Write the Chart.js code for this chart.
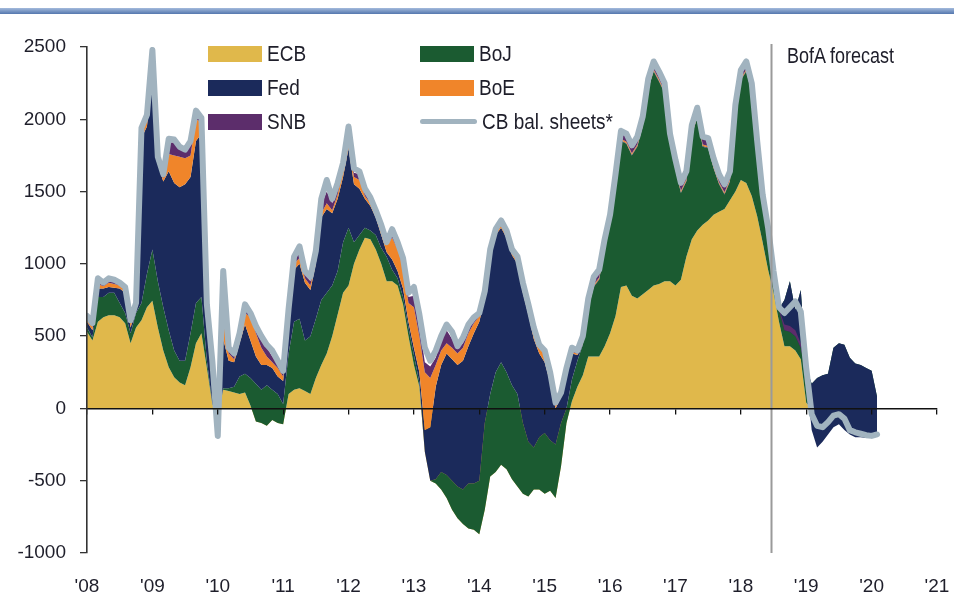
<!DOCTYPE html>
<html><head><meta charset="utf-8">
<script src="https://cdn.jsdelivr.net/npm/chart.js@4.4.1/dist/chart.umd.min.js"></script>
<style>
html,body{margin:0;padding:0;background:#fff;}
#wrap{position:relative;width:954px;height:597px;overflow:hidden;background:#fff;}
#topbar{position:absolute;left:0;top:8px;width:954px;height:6px;background:linear-gradient(#a3badc,#5477ae);}
canvas{position:absolute;left:0;top:0;}
.lg{position:absolute;display:flex;align-items:center;white-space:nowrap;color:#1e1e2a;height:17px;font-family:"Liberation Sans",Arial,sans-serif;font-size:19px;}
.lg .t,#fc .t{display:inline-block;transform:scaleY(1.2);transform-origin:50% 50%;line-height:17px;}
.sw{display:inline-block;width:54px;height:16px;margin-right:5px;flex:none;}
.ln{display:inline-block;width:57px;height:5px;border-radius:3px;margin-right:5px;flex:none;}
#fc{position:absolute;left:787px;top:46px;height:17px;color:#1e1e2a;white-space:nowrap;font-family:"Liberation Sans",Arial,sans-serif;font-size:18px;}
</style></head>
<body><div id="wrap"><canvas id="c" width="954" height="597"></canvas><div id="topbar"></div><div id="legend"></div><div id="fc"><span class="t">BofA forecast</span></div></div>
<script>
// ---- data (monthly, Jan 2008 .. Feb 2020), 12m change, $bn ----
const START_YEAR = 2008;
const FORECAST_START = 2018.46;
const xTickLabels = ["'08","'09","'10","'11","'12","'13","'14","'15","'16","'17","'18","'19","'20","'21"];
const yTicks = [-1000, -500, 0, 500, 1000, 1500, 2000, 2500];

const ECB = [530,470,600,630,645,645,630,590,450,560,
 610,700,745,560,400,285,215,180,160,285,
 450,520,280,30,-50,130,120,110,100,110,
 20,-90,-100,-120,-80,-100,-110,100,130,140,
 120,100,210,300,380,500,650,800,850,1000,
 1100,1180,1170,1100,1000,880,880,850,720,500,
 300,150,-300,-500,-520,-560,-620,-700,-760,-800,
 -830,-840,-870,-700,-470,-440,-390,-420,-490,-540,
 -590,-610,-560,-560,-590,-570,-620,-400,-100,50,
 150,230,360,360,360,430,520,640,840,850,
 780,760,790,820,850,860,880,880,850,890,
 1050,1170,1230,1270,1300,1340,1360,1380,1440,1500,
 1580,1560,1470,1330,1150,960,800,600,430,430,
 400,340,40,0,0,0,0,0,0,0,
 0,0,0,0,0,0];
const BoJ = [30,20,170,140,155,155,100,70,70,100,
 120,230,355,320,300,255,185,150,170,235,
 280,250,50,10,-10,10,20,40,120,130,
 190,260,230,280,210,200,140,280,470,480,
 350,400,410,450,420,350,300,350,400,150,
 100,70,60,100,110,170,80,50,50,60,
 70,30,0,0,30,120,160,200,220,240,
 310,320,370,600,570,690,710,670,650,640,
 490,380,290,360,420,350,370,300,100,150,
 180,210,330,480,530,670,750,910,1010,980,
 970,1050,1160,1390,1480,1400,1300,950,800,600,
 520,720,780,540,500,320,190,100,130,530,
 690,770,710,450,260,220,100,90,320,450,
 280,480,240,170,210,230,240,420,450,440,
 350,310,300,280,260,80];
const Fed = [40,50,60,60,40,35,100,140,40,30,
 1140,1020,1200,810,870,1100,1160,1200,1220,1080,
 1120,1130,290,160,-40,340,190,170,230,340,
 260,190,170,140,150,120,160,260,360,380,
 400,320,380,570,580,500,500,450,550,400,
 320,200,170,120,90,30,70,50,60,40,
 50,70,150,370,640,740,840,840,840,890,
 950,1040,1100,860,950,950,930,930,900,900,
 900,880,750,580,490,400,250,180,250,180,
 40,5,5,5,5,5,5,5,5,5,
 5,5,5,5,5,5,5,5,5,5,
 5,5,5,5,5,5,5,5,5,5,
 5,5,5,5,5,5,5,-10,-210,-350,
 -180,-400,-50,-320,-480,-460,-420,-550,-560,-590,
 -530,-510,-500,-485,-465,-270];
const BoE = [20,25,30,15,30,25,20,20,30,20,
 50,40,120,10,20,120,190,210,180,150,
 150,80,60,100,-90,300,50,20,30,80,
 160,160,120,60,40,60,30,20,40,40,
 30,30,30,30,40,20,30,50,50,50,
 60,20,20,20,40,50,150,150,150,130,
 280,250,400,340,150,100,70,80,80,90,
 90,70,40,30,30,20,15,20,20,30,
 50,50,60,40,60,50,20,10,10,10,
 10,10,10,10,10,10,10,10,10,10,
 10,10,10,10,10,10,10,10,10,10,
 10,10,10,10,10,10,10,10,10,10,
 10,10,10,10,10,10,10,0,0,0,
 0,0,0,0,0,0,0,0,0,0,
 0,0,0,0,0,0];
const SNB = [10,10,20,10,15,15,10,10,10,10,
 15,20,40,10,10,80,90,60,50,70,
 30,20,20,20,-5,70,20,20,20,30,
 20,30,50,60,40,30,20,10,20,40,
 30,30,30,60,80,50,40,30,50,30,
 40,30,20,20,20,20,40,30,40,40,
 80,80,70,80,50,70,90,60,40,30,
 30,20,10,10,10,10,15,10,10,10,
 10,10,10,10,10,10,10,10,10,10,
 10,30,40,40,40,40,40,40,40,40,
 40,40,40,40,40,40,40,40,40,40,
 40,40,40,40,40,40,40,40,40,40,
 40,40,40,40,40,40,20,10,40,40,
 40,30,0,0,0,0,0,0,0,0,
 0,0,0,0,0,0];
const CBtotal = [640,590,900,870,900,890,870,840,610,730,
 1940,2030,2480,1740,1620,1865,1860,1810,1790,1850,
 2060,2010,720,330,-190,950,420,380,520,720,
 660,570,500,440,400,330,260,690,1050,1120,
 950,910,1090,1450,1580,1450,1560,1700,1950,1660,
 1640,1520,1460,1370,1270,1150,1240,1150,1040,800,
 840,650,420,330,400,500,580,530,430,490,
 580,630,660,810,1100,1240,1300,1230,1100,1050,
 870,720,560,440,400,250,40,110,280,420,
 400,500,760,910,960,1170,1340,1620,1920,1900,
 1820,1880,2020,2280,2400,2330,2250,1900,1720,1560,
 1640,1960,2080,1880,1870,1730,1620,1550,1640,2100,
 2340,2400,2250,1850,1480,1250,950,700,660,700,
 740,670,280,-40,-120,-130,-95,-50,-40,-70,
 -150,-165,-175,-185,-190,-180];

const seriesNames = ['ECB','BoJ','Fed','BoE','SNB'];
const seriesColors = ['#E0B84B','#1B5B31','#1B2A5B','#F0852A','#5C2D6B'];
const lineName = 'CB bal. sheets*';
const lineColor = '#A1B3BF';
// legend grid: [name, column, row]
const legendLayout = [['ECB',0,0],['Fed',0,1],['SNB',0,2],['BoJ',1,0],['BoE',1,1],[lineName,1,2]];

const FONT = '"Liberation Sans", Arial, sans-serif';
const AX = 19;
const TXT = '#1e1e2a';

// ---- legend (HTML text) ----
const legend=document.getElementById('legend');
const colX=[208,420], rowY=[45,79,113];
legendLayout.forEach(([name,col,row])=>{
  const d=document.createElement('div'); d.className='lg';
  d.style.left=colX[col]+'px'; d.style.top=rowY[row]+'px';
  const sw=document.createElement('span');
  if(name===lineName){ sw.className='ln'; sw.style.background=lineColor; }
  else { sw.className='sw'; sw.style.background=seriesColors[seriesNames.indexOf(name)]; }
  const t=document.createElement('span'); t.className='t'; t.textContent=name;
  d.appendChild(sw); d.appendChild(t); legend.appendChild(d);
});

// ---- chart ----
const N = ECB.length;
const months = Array.from({length:N},(_,i)=>START_YEAR + i/12);
const series=[ECB,BoJ,Fed,BoE,SNB];
let cum=new Array(N).fill(0);
const datasets = series.map((arr,k)=>{
  cum = cum.map((c,i)=>c+arr[i]);
  const band = cum.slice();
  return {label:seriesNames[k], data:months.map((x,i)=>({x, y:band[i]})),
    backgroundColor:seriesColors[k], borderWidth:0, pointRadius:0, fill: k===0?'origin':'-1',
    order:10-k, xAxisID:'x', yAxisID:'y', tension:0};
});
datasets.push({label:lineName, data:months.map((x,i)=>({x, y:CBtotal[i]})), borderColor:lineColor,
  borderWidth:6, fill:false, pointRadius:0, order:0, borderJoinStyle:'round', borderCapStyle:'round',
  xAxisID:'x', yAxisID:'y', tension:0});

const forecastPlugin={id:'forecast', afterDatasetsDraw(chart){
  const {ctx,chartArea,scales}=chart; const x=Math.round(scales.x.getPixelForValue(FORECAST_START))+0.5;
  ctx.save(); ctx.strokeStyle='#9a9a9a'; ctx.lineWidth=2; ctx.beginPath();
  ctx.moveTo(x,chartArea.top-3); ctx.lineTo(x,chartArea.bottom); ctx.stroke(); ctx.restore();
}};

new Chart(document.getElementById('c'),{
  type:'line',
  data:{datasets},
  plugins:[forecastPlugin],
  options:{
    responsive:false, animation:false, devicePixelRatio:1,
    layout:{padding:{top:47,right:17,left:0,bottom:0}},
    plugins:{legend:{display:false},tooltip:{enabled:false}},
    scales:{
      x:{type:'linear',min:2008,max:2021,position:'bottom',
        ticks:{stepSize:1,autoSkip:false,maxRotation:0,padding:2,color:TXT,font:{family:FONT,size:AX},
          callback:(v)=>xTickLabels[Math.round(v-START_YEAR)] ?? ''},
        grid:{display:false,drawTicks:true,tickLength:20}, border:{display:false},
        afterFit:(s)=>{s.height=44;}},
      x0:{type:'linear',min:2008,max:2021,position:{y:0},
        ticks:{display:false,stepSize:1,autoSkip:false},
        grid:{drawOnChartArea:false,drawTicks:true,tickLength:5,color:'#111',lineWidth:1.3,z:1},
        border:{display:true,color:'#111',width:1.6,z:1}},
      y:{type:'linear',min:-1000,max:2500,position:'left',
        afterBuildTicks:(s)=>{s.ticks=yTicks.map(v=>({value:v}));},
        ticks:{padding:14,color:TXT,font:{family:FONT,size:AX},callback:(v)=>String(v)},
        grid:{drawOnChartArea:false,drawTicks:true,tickLength:7,color:'#333',lineWidth:1.3,z:1},
        border:{display:true,color:'#333',width:1.6,z:1},
        afterFit:(s)=>{s.width=87;}}
    }
  }
});
</script></body></html>
